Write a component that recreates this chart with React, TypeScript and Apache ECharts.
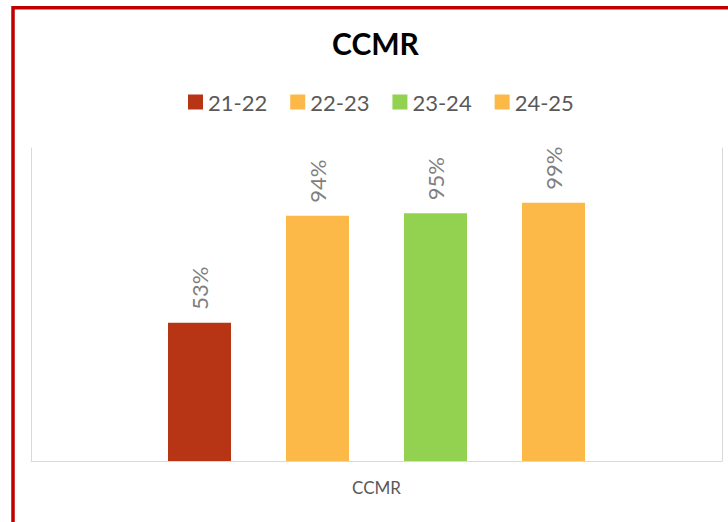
import React, { useEffect, useRef } from "react";
import * as echarts from "echarts";

const categories = ["CCMR"];
const seriesNames = ["21-22", "22-23", "23-24", "24-25"];
const seriesValues = [53, 94, 95, 99];
const seriesColors = ["#b73514", "#fdb947", "#93d150", "#fdb947"];
const chartTitle = "CCMR";

export default function App() {
  const ref = useRef<HTMLDivElement | null>(null);

  useEffect(() => {
    if (!ref.current) return;
    const chart = echarts.init(ref.current, undefined, { renderer: "svg" });
    const font = "Lato, 'Noto Sans', sans-serif";
    const option: any = {
      animation: false,
      backgroundColor: "#ffffff",
      textStyle: { fontFamily: font },
      title: {
        text: chartTitle,
        left: 332,
        top: 28,
        padding: 0,
        textStyle: { fontSize: 30, fontWeight: "bold", color: "#000000", fontFamily: font },
      },
      legend: {
        left: 188,
        top: 91,
        padding: 0,
        itemWidth: 15,
        itemHeight: 15,
        itemGap: 23,
        icon: "rect",
        textStyle: { fontSize: 22, color: "#595959", fontFamily: font },
        data: seriesNames,
      },
      grid: { left: 31, right: 6, top: 148, bottom: 61, containLabel: false },
      xAxis: {
        type: "category",
        data: categories,
        axisLine: { show: true, lineStyle: { color: "#d9d9d9", width: 1 } },
        axisTick: { show: false },
        axisLabel: { show: true, margin: 18, fontSize: 17, color: "#595959", fontFamily: font },
      },
      yAxis: [
        {
          type: "value",
          min: 0,
          max: 120,
          interval: 20,
          position: "left",
          axisLine: { show: true, lineStyle: { color: "#d9d9d9", width: 1 } },
          axisTick: { show: false },
          axisLabel: { show: false },
          splitLine: { show: false },
        },
        {
          type: "value",
          min: 0,
          max: 120,
          interval: 20,
          position: "right",
          axisLine: { show: true, lineStyle: { color: "#d9d9d9", width: 1 } },
          axisTick: { show: false },
          axisLabel: { show: false },
          splitLine: { show: false },
        },
      ],
      series: seriesNames.map((name, i) => ({
        name,
        type: "bar",
        yAxisIndex: 0,
        barWidth: 63,
        barGap: "87.3%",
        itemStyle: { color: seriesColors[i] },
        label: {
          show: true,
          position: "top",
          rotate: 90,
          align: "left",
          verticalAlign: "middle",
          distance: 13,
          formatter: "{c}%",
          fontSize: 22,
          color: "#7f7f7f",
          fontFamily: font,
        },
        data: [seriesValues[i]],
      })),
      graphic: [
        {
          type: "rect",
          z: 100,
          silent: true,
          shape: { x: 13, y: 7.7, width: 900, height: 700 },
          style: { fill: "none", stroke: "#c00000", lineWidth: 3.5 },
        },
      ],
    };
    chart.setOption(option);
    return () => chart.dispose();
  }, []);

  return (
    <div
      ref={ref}
      style={{ position: "fixed", left: 0, top: 0, width: 728, height: 522 }}
    />
  );
}
